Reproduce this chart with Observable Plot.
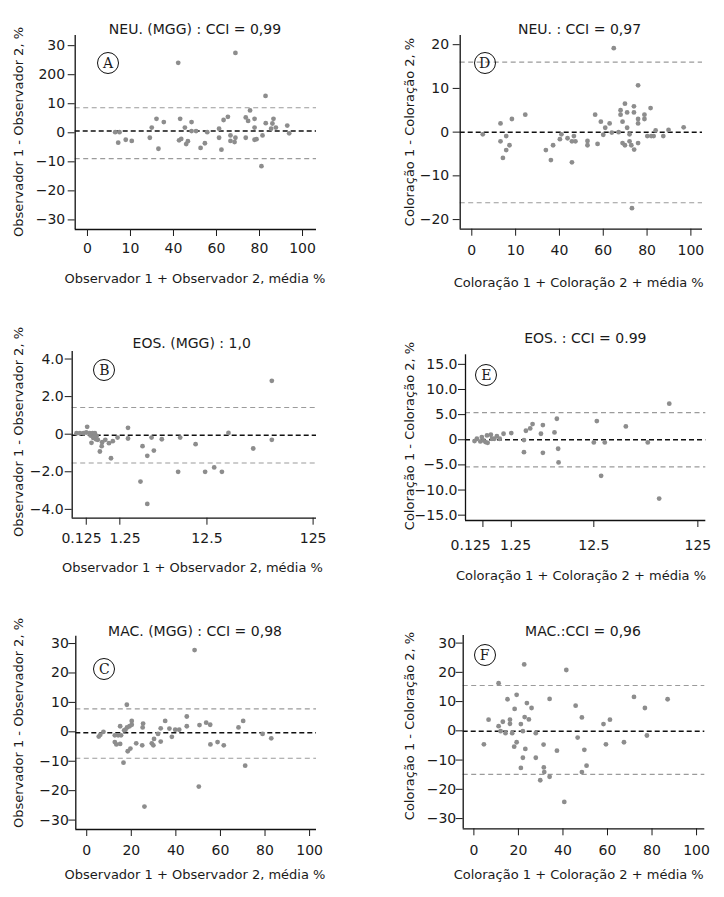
<!DOCTYPE html>
<html>
<head>
<meta charset="utf-8">
<script src="https://cdn.jsdelivr.net/npm/d3@7"></script>
<script src="https://cdn.jsdelivr.net/npm/@observablehq/plot@0.6"></script>
<style>
  body { margin: 0; background: #fff; }
  #wrap { position: relative; width: 724px; height: 897px; font-family: "DejaVu Sans", sans-serif; color: #1a1a1a; overflow: hidden; }
  .t { position: absolute; white-space: nowrap; transform: translate(-50%, -50%); font-size: 13px; line-height: 1; }
  .ttl { font-size: 14px; }
  .yl { transform: translate(-50%, -50%) rotate(-90deg); }
  .badge { position: absolute; width: 20px; height: 20px; border: 1.2px solid #111; border-radius: 50%; transform: translate(-50%, -50%);
           text-align: center; line-height: 20px; font-size: 14px; font-family: "DejaVu Serif", serif; box-sizing: content-box; }
  .panel { position: absolute; }
</style>
</head>
<body>
<div id="wrap"></div>
<script>
// ---------- Data ----------
// A: NEU. (MGG) — Observador 1 vs Observador 2
const neuMggX = [12.9,14.9,14.3,17.8,20.6,29.0,29.9,32.1,33.0,35.5,42.2,43.1,42.6,43.6,45.3,45.9,46.7,48.4,48.4,50.5,52.6,54.6,55.7,61.2,61.2,62.3,63.3,65.3,66.5,66.5,68.4,68.8,68.8,73.6,73.6,74.7,75.6,77.7,77.7,77.7,78.6,80.9,81.4,82.8,82.9,85.4,86.0,86.5,87.6,92.9,93.8];
const neuMggY = [0.2,0.2,-3.4,-2.4,-2.8,-1.7,1.8,4.8,-5.5,3.7,24.1,4.8,-2.6,-2.1,1.8,-3.9,-2.9,3.7,0.6,0.6,-5.2,-3.6,0.2,1.4,-1.7,-5.8,4.4,5.5,-0.9,-2.8,-3.2,-1.7,27.5,-1.7,5.3,4.1,7.7,4.8,1.8,-2.4,-2.2,-11.5,-0.9,12.7,3.3,1.4,3.2,4.8,1.8,2.5,-0.2];
const neuMggLines = [0.6, 8.6, -8.9]; // mean, upper, lower

// D: NEU. — Coloração 1 vs Coloração 2
const neuColX = [5.0,13.1,13.1,14.2,15.7,15.7,17.2,18.3,24.4,33.8,36.1,37.1,40.2,40.9,43.7,45.7,45.7,46.6,47.3,52.8,52.8,56.3,57.4,58.9,60.0,60.9,62.9,63.9,64.8,67.0,67.9,67.9,68.8,68.8,69.9,69.9,70.9,70.9,72.0,72.0,72.8,73.1,74.0,74.0,74.1,75.9,75.9,75.9,75.9,78.8,78.8,80.1,81.6,81.9,83.0,83.9,87.4,89.8,96.7];
const neuColY = [-0.5,2.0,-2.1,-5.9,-0.9,-4.1,-3.0,3.0,4.0,-4.1,-6.4,-3.0,-1.6,-0.5,-1.4,-6.9,-2.1,-0.9,-2.1,-2.0,-3.0,4.0,-2.7,2.4,-0.6,1.0,2.0,-0.1,19.2,0.0,5.0,4.0,2.4,-2.5,6.5,-3.0,1.0,4.5,-0.5,-2.1,-3.0,-17.4,5.9,4.5,-4.0,10.7,-2.5,3.0,2.0,4.0,3.0,-0.9,5.5,-0.9,-0.9,0.4,-0.9,0.5,1.1];
const neuColLines = [0.0, 16.0, -16.15];

// B: EOS. (MGG) — x given as position along the (irregular) 0.125–125 axis, 0 = "0.125", 100 = "125"
const eosMggX = [-4.3,-2.8,-1.3,0.0,0.4,1.5,1.9,2.3,2.8,3.1,3.4,3.8,4.3,4.6,5.1,6.0,6.8,7.0,8.4,10.0,10.9,11.7,13.8,18.4,18.4,23.9,24.8,26.9,26.9,28.8,29.8,33.3,40.5,41.4,48.2,52.4,56.4,59.8,62.7,73.6,81.8,81.8];
const eosMggY = [0.05,0.05,0.05,0.09,0.39,0.05,-0.07,-0.46,0.05,-0.2,-0.1,0.05,-0.27,-0.1,-0.3,-0.92,-0.64,-0.43,-0.3,-0.48,-1.28,-0.37,-0.18,0.34,-0.23,-2.52,-0.64,-1.15,-3.71,-0.18,-0.87,-0.27,-2.0,-0.18,-0.53,-2.0,-1.77,-2.0,0.07,-0.76,2.84,-0.3];
const eosMggLines = [-0.05, 1.42, -1.53];

// E: EOS. — Coloração (same positional x axis)
const eosColX = [-3.9,-2.8,-1.2,-0.5,0.3,1.2,1.9,2.2,3.7,4.2,5.3,6.5,7.8,9.6,13.2,19.1,19.1,20.0,22.0,23.1,27.0,27.9,27.9,33.3,34.4,35.0,35.2,51.6,53.0,55.0,56.7,66.5,76.7,82.0,86.7];
const eosColY = [-0.27,0.2,-0.33,0.53,-0.13,-0.46,0.86,-0.6,1.0,0.2,0.2,0.73,0.2,1.2,1.33,-0.07,-2.46,1.79,2.26,3.12,1.2,2.92,-2.59,1.46,4.18,-1.79,-4.51,-0.53,3.72,-7.17,-0.53,2.65,-0.53,-11.7,7.17];
const eosColLines = [0.0, 5.4, -5.4];

// C: MAC. (MGG)
const macMggX = [5.4,6.1,7.5,12.6,12.6,13.3,14.1,15.0,15.0,15.4,16.5,16.8,17.4,18.0,18.1,18.4,19.2,19.6,20.2,20.2,22.2,24.9,25.1,25.3,25.9,29.2,29.9,30.2,32.0,33.2,33.2,35.2,37.1,38.2,39.7,41.5,44.9,44.9,48.4,50.3,50.6,53.6,55.4,55.5,58.7,61.5,68.1,70.2,71.1,78.9,82.8];
const macMggY = [-1.6,-1.0,0.0,-1.2,-3.5,-4.3,-1.2,1.9,-4.1,-1.2,-10.5,0.5,0.7,9.2,1.5,-6.6,1.9,-5.7,2.4,3.7,-3.9,-4.6,1.5,2.8,-25.4,-3.9,-4.6,-2.4,-0.7,-3.3,1.2,3.7,1.1,-1.7,0.7,0.7,1.9,5.2,27.8,-18.6,2.3,3.1,2.4,-4.3,-3.5,-4.6,1.5,3.7,-11.5,-0.7,-2.2];
const macMggLines = [-0.3, 7.8, -9.0];

// F: MAC. — Coloração
const macColX = [4.5,6.6,11.1,11.1,12.0,13.0,14.2,15.1,16.2,16.2,17.2,18.1,18.3,19.2,19.2,21.1,21.1,22.0,22.0,22.6,22.8,23.1,23.8,24.7,25.9,27.8,27.8,29.8,31.3,31.4,31.6,34.0,34.0,37.3,40.6,41.5,45.7,46.6,48.5,48.5,49.6,50.6,58.2,59.3,61.1,67.4,71.9,76.8,77.7,87.0];
const macColY = [-4.6,3.8,16.3,1.6,-0.1,3.1,-0.8,10.8,3.8,2.4,-0.8,-5.4,7.5,12.3,-3.9,2.3,-12.7,-0.1,-9.2,22.7,4.7,-6.2,9.5,3.9,7.8,-0.8,-9.2,-16.9,-4.7,-12.5,-14.1,10.9,-15.7,-6.8,-24.3,20.8,8.6,-2.3,4.6,-14.1,-6.5,-11.9,2.3,-4.6,3.8,-3.9,11.6,7.8,-1.6,10.8];
const macColLines = [-0.1, 15.5, -14.9];

// Tick values and labels (labels as printed in the original figure)
const pctTicks = [0, 20, 40, 60, 80, 100];
const pctTickLabelsTop = ["0", "10", "40", "60", "80", "100"];
const pctTickLabelsBottom = ["0", "20", "40", "60", "80", "100"];
const diff30Ticks = [30, 20, 10, 0, -10, -20, -30];
const diff30LabelsA = ["30", "200", "10", "0", "−10", "−20", "−30"];
const diff30Labels = ["30", "20", "10", "0", "−10", "−20", "−30"];
const diff20Ticks = [20, 10, 0, -10, -20];
const diff20Labels = ["20", "10", "0", "−10", "−20"];
const eos4Ticks = [4, 2, 0, -2, -4];
const eos4Labels = ["4.0", "2.0", "0", "−2.0", "−4.0"];
const eos15Ticks = [15, 10, 5, 0, -5, -10, -15];
const eos15Labels = ["15.0", "10.0", "5.0", "0", "−5.0", "−10.0", "−15.0"];
const eosScaleLabels = ["0.125", "1.25", "12.5", "125"];
const eosMggTickPos = [0, 14.8, 53.2, 100];
const eosMggLabelPos = [-2.1, 17.1, 53.2, 100];
const eosColTickPos = [0, 13.2, 51.6, 100];
const eosColLabelPos = [-5.7, 15.2, 51.6, 100];

const titles = ["NEU. (MGG) : CCI = 0,99", "NEU. : CCI = 0,97", "EOS. (MGG) : 1,0", "EOS. : CCI = 0.99", "MAC. (MGG) : CCI = 0,98", "MAC.:CCI = 0,96"];
const letters = ["A", "D", "B", "E", "C", "F"];
const obsYLabel = "Observador 1 - Observador 2, %";
const obsXLabel = "Observador 1 + Observador 2, média %";
const colYLabel = "Coloração 1 - Coloração 2, %";
const colXLabel = "Coloração 1 + Coloração 2 + média %";

// ---------- Layout ----------
const panels = [
  { box: [0, 0, 362, 290], frame: [74.7, 316, 35, 229], xd: [-5.7, 106.5], yd: [-33.3, 33.5],
    xs: neuMggX, ys: neuMggY, lines: neuMggLines, xt: pctTicks, xlp: pctTicks, xl: pctTickLabelsTop, yt: diff30Ticks, yl: diff30LabelsA,
    xOff: 19, yOff: 10, title: [195, 29], ylab: [18, 132], xlab: [195, 278], badge: [108, 62.7], kind: "obs" },
  { box: [362, 0, 362, 290], frame: [459.7, 702, 35, 228.7], xd: [-5.3, 105.3], yd: [-22.2, 22.1],
    xs: neuColX, ys: neuColY, lines: neuColLines, xt: pctTicks, xlp: pctTicks, xl: pctTickLabelsTop, yt: diff20Ticks, yl: diff20Labels,
    xOff: 21, yOff: 11, title: [579.5, 29], ylab: [408.7, 131.7], xlab: [578.7, 281.7], badge: [484.7, 62.7], kind: "col" },
  { box: [0, 290, 362, 300], frame: [71.7, 316, 351, 517.7], xd: [-6.2, 101.5], yd: [-4.47, 4.4],
    xs: eosMggX, ys: eosMggY, lines: eosMggLines, xt: eosMggTickPos, xlp: eosMggLabelPos, xl: eosScaleLabels, yt: eos4Ticks, yl: eos4Labels,
    xOff: 19.5, yOff: 8.5, title: [191.7, 343.3], ylab: [18, 431.7], xlab: [192.5, 566.7], badge: [104.3, 370], kind: "obs" },
  { box: [362, 290, 362, 300], frame: [465, 705.3, 354.3, 520], xd: [-8.1, 103.7], yd: [-16.06, 16.9],
    xs: eosColX, ys: eosColY, lines: eosColLines, xt: eosColTickPos, xlp: eosColLabelPos, xl: eosScaleLabels, yt: eos15Ticks, yl: eos15Labels,
    xOff: 25, yOff: 8, title: [585.3, 337.7], ylab: [408.7, 435.8], xlab: [581, 575], badge: [486.3, 375], kind: "col" },
  { box: [0, 590, 362, 307], frame: [75.3, 316, 635.7, 829], xd: [-4.9, 103.1], yd: [-33.2, 32.5],
    xs: macMggX, ys: macMggY, lines: macMggLines, xt: pctTicks, xlp: pctTicks, xl: pctTickLabelsBottom, yt: diff30Ticks, yl: diff30Labels,
    xOff: 21, yOff: 7, title: [195, 630.7], ylab: [18, 723.3], xlab: [195, 874], badge: [104.3, 669.3], kind: "obs" },
  { box: [362, 590, 362, 307], frame: [462.7, 704.3, 635, 828.3], xd: [-4.8, 103.7], yd: [-33.5, 32.6],
    xs: macColX, ys: macColY, lines: macColLines, xt: pctTicks, xlp: pctTicks, xl: pctTickLabelsBottom, yt: diff30Ticks, yl: diff30Labels,
    xOff: 21.7, yOff: 7, title: [583, 630.7], ylab: [408.7, 725.7], xlab: [578.7, 874], badge: [484.7, 655], kind: "col" }
];

const wrap = document.getElementById("wrap");
const FONT = '"DejaVu Sans", sans-serif';

function addText(txt, pos, cls) {
  const d = document.createElement("div");
  d.className = "t" + (cls ? " " + cls : "");
  d.textContent = txt;
  d.style.left = pos[0] + "px";
  d.style.top = pos[1] + "px";
  wrap.appendChild(d);
  return d;
}

panels.forEach((p, i) => {
  const [bl, bt, bw, bh] = p.box;
  const [fl, fr, ft, fb] = p.frame;
  const rows = p.xs.map((x, j) => ({ x, y: p.ys[j] }));
  const xmap = new Map(p.xlp.map((v, j) => [v, p.xl[j]]));
  const ymap = new Map(p.yt.map((v, j) => [v, p.yl[j]]));
  const tickSize = 7;
  const chart = Plot.plot({
    width: bw, height: bh,
    marginLeft: fl - bl, marginRight: bl + bw - fr, marginTop: ft - bt, marginBottom: bt + bh - fb,
    x: { domain: p.xd, axis: null },
    y: { domain: p.yd, axis: null },
    style: { fontFamily: FONT, fontSize: "14px", color: "#1a1a1a", background: "transparent", overflow: "visible" },
    marks: [
      Plot.ruleY([p.lines[1], p.lines[2]], { stroke: "#9b9b9b", strokeWidth: 1.1, strokeDasharray: "5,3.5" }),
      Plot.ruleY([p.lines[0]], { stroke: "#111", strokeWidth: 1.5, strokeDasharray: "5,3" }),
      Plot.dot(rows, { x: "x", y: "y", r: 2.4, fill: "#8d8d8d", stroke: "none" }),
      Plot.ruleX([p.xd[0]], { stroke: "#111", strokeWidth: 1.3 }),
      Plot.ruleY([p.yd[0]], { stroke: "#111", strokeWidth: 1.3 }),
      // x tick marks
      Plot.axisX(p.xt, { anchor: "bottom", tickSize, tickFormat: () => "", label: null }),
      // x tick labels
      Plot.axisX(p.xlp, { anchor: "bottom", tickSize: 0, tickPadding: p.xOff - 5, tickFormat: d => xmap.get(d), label: null, fontSize: 14 }),
      Plot.axisY(p.yt, { anchor: "left", tickSize, tickPadding: p.yOff - tickSize, tickFormat: d => ymap.get(d), label: null, fontSize: 14 })
    ]
  });
  chart.classList.add("panel");
  chart.style.left = bl + "px";
  chart.style.top = bt + "px";
  wrap.appendChild(chart);

  addText(titles[i], p.title, "ttl");
  addText(p.kind === "obs" ? obsYLabel : colYLabel, p.ylab, "yl");
  addText(p.kind === "obs" ? obsXLabel : colXLabel, p.xlab);
  const b = document.createElement("div");
  b.className = "badge";
  b.textContent = letters[i];
  b.style.left = p.badge[0] + "px";
  b.style.top = p.badge[1] + "px";
  wrap.appendChild(b);
});
</script>
</body>
</html>
